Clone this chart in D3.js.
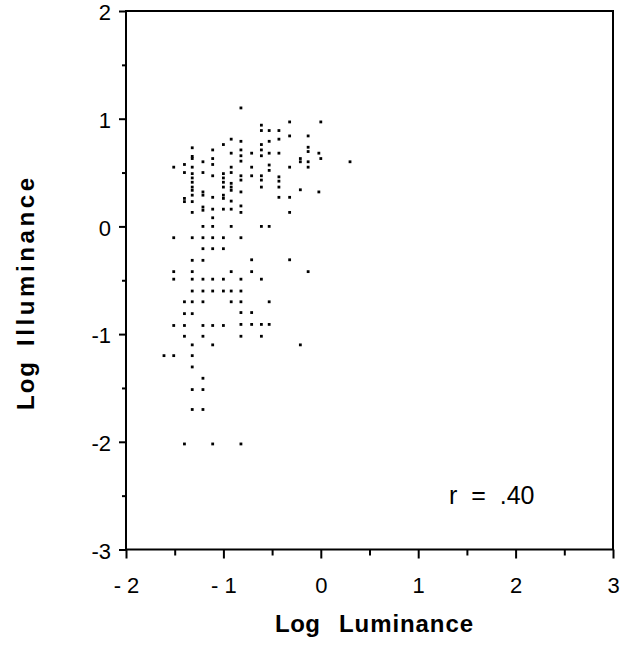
<!DOCTYPE html>
<html><head><meta charset="utf-8">
<script src="https://cdn.jsdelivr.net/npm/d3@7"></script>
<style>body{margin:0;background:#fff}
.tick text{font-family:'Liberation Sans', Arial, Helvetica, sans-serif !important;font-size:22px !important;fill:#000}</style>
</head><body>
<svg id="chart" width="636" height="645"></svg>
<script>
// Log luminance value of each column of points
const luminanceColumns = [-1.61, -1.51, -1.40, -1.32, -1.21, -1.11, -1.00, -0.92, -0.82, -0.71, -0.61, -0.53, -0.43, -0.32, -0.21, -0.13, -0.02, 0.00, 0.30];
// Log illuminance values for each column
const illuminanceByColumn = [
  [-1.20],
  [0.55, -0.105, -0.42, -0.49, -0.92, -1.20],
  [0.575, 0.50, 0.26, 0.23, -0.70, -0.81, -0.92, -1.02, -2.02],
  [0.73, 0.65, 0.63, 0.55, 0.49, 0.45, 0.41, 0.365, 0.335, 0.29, 0.23, 0.13, -0.105, -0.315, -0.42, -0.49, -0.60, -0.70, -0.81, -1.10, -1.20, -1.305, -1.515, -1.70],
  [0.60, 0.50, 0.32, 0.29, 0.18, 0.15, 0.0, -0.105, -0.207, -0.315, -0.49, -0.60, -0.70, -0.92, -1.02, -1.41, -1.515, -1.70],
  [0.71, 0.63, 0.575, 0.47, 0.27, 0.16, 0.08, 0.0, -0.105, -0.207, -0.49, -0.60, -0.92, -1.10, -2.02],
  [0.76, 0.49, 0.45, 0.41, 0.365, 0.29, 0.26, 0.16, -0.105, -0.207, -0.49, -0.60, -0.92],
  [0.81, 0.68, 0.55, 0.50, 0.40, 0.365, 0.335, 0.235, 0.16, 0.0, -0.42, -0.60, -0.70],
  [1.10, 0.79, 0.71, 0.656, 0.606, 0.47, 0.43, 0.32, 0.19, 0.13, -0.105, -0.49, -0.60, -0.70, -0.80, -0.91, -1.02, -2.02],
  [0.68, 0.55, 0.47, -0.31, -0.42, -0.80, -0.91],
  [0.94, 0.89, 0.76, 0.71, 0.656, 0.47, 0.43, 0.365, 0.0, -0.49, -0.91, -1.02],
  [0.89, 0.79, 0.68, 0.57, 0.52, 0.0, -0.70, -0.91],
  [0.89, 0.81, 0.68, 0.46, 0.42, 0.365, 0.27],
  [0.97, 0.84, 0.55, 0.27, 0.13, -0.31],
  [0.63, 0.60, 0.34, -1.10],
  [0.84, 0.735, 0.695, 0.60, 0.55, -0.42],
  [0.68, 0.32],
  [0.97, 0.63],
  [0.60]
];
const xMajorTicks = [-2, -1, 0, 1, 2, 3];
const xTickLabels = ["- 2", "- 1", "0", "1", "2", "3"];
const xMinorTicks = [-1.5, -0.5, 0.5, 1.5, 2.5];
const yMajorTicks = [2, 1, 0, -1, -2, -3];
const yTickLabels = ["2", "1", "0", "-1", "-2", "-3"];
const yMinorTicks = [1.5, 0.5, -0.5, -1.5, -2.5];
const xTitleWords = ["Log", "Luminance"];
const yTitleWords = ["Log", "Illuminance"];
const annotation = "r  =  .40";

const points = [];
luminanceColumns.forEach((lx, i) => illuminanceByColumn[i].forEach(ly => points.push({x: lx, y: ly})));

const svg = d3.select("#chart");
const font = "'Liberation Sans', Arial, Helvetica, sans-serif";
const x = d3.scaleLinear().domain([-2, 3]).range([126, 613]);
const y = d3.scaleLinear().domain([-3, 2]).range([549.5, 11]);

// frame
svg.append("rect")
  .attr("x", x(-2)).attr("y", y(2))
  .attr("width", x(3) - x(-2)).attr("height", y(-3) - y(2))
  .attr("fill", "none").attr("stroke", "#000").attr("stroke-width", 2);

function styleAxis(g) {
  g.attr("font-size", 22).attr("font-family", font);
  g.select(".domain").remove();
  g.selectAll(".tick line").attr("stroke", "#000").attr("stroke-width", 2);
  g.selectAll(".tick text").attr("fill", "#000");
}

// bottom axis
const gxMajor = svg.append("g").attr("transform", `translate(0,${y(-3)})`);
gxMajor.call(d3.axisBottom(x).tickValues(xMajorTicks).tickSize(9).tickPadding(19)
        .tickFormat((d, i) => xTickLabels[i]));
styleAxis(gxMajor);
const gxMinor = svg.append("g").attr("transform", `translate(0,${y(-3)})`);
gxMinor.call(d3.axisBottom(x).tickValues(xMinorTicks).tickSize(6).tickFormat(""));
styleAxis(gxMinor);

// left axis
const gyMajor = svg.append("g").attr("transform", `translate(${x(-2)},0)`);
gyMajor.call(d3.axisLeft(y).tickValues(yMajorTicks).tickSize(7).tickPadding(8)
        .tickFormat((d, i) => yTickLabels[i]));
styleAxis(gyMajor);
gyMajor.selectAll(".tick text").attr("dy", "0.4em");
const gyMinor = svg.append("g").attr("transform", `translate(${x(-2)},0)`);
gyMinor.call(d3.axisLeft(y).tickValues(yMinorTicks).tickSize(4).tickFormat(""));
styleAxis(gyMinor);

// points
const s = 2.8;
svg.append("g").selectAll("rect").data(points).join("rect")
  .attr("x", d => x(d.x) - s / 2).attr("y", d => y(d.y) - s / 2)
  .attr("width", s).attr("height", s).attr("fill", "#000");

// annotation
svg.append("text").attr("x", 449).attr("y", 504)
  .style("font-family", font).style("font-size", "25px")
  .style("white-space", "pre").text(annotation);

// x title
svg.append("text").attr("x", 275).attr("y", 632)
  .style("font-family", font).style("font-size", "24px").attr("font-weight", "bold")
  .attr("textLength", 45).attr("lengthAdjust", "spacing").text(xTitleWords[0]);
svg.append("text").attr("x", 339).attr("y", 632)
  .style("font-family", font).style("font-size", "24px").attr("font-weight", "bold")
  .attr("textLength", 134).attr("lengthAdjust", "spacing").text(xTitleWords[1]);

// y title
const yt = svg.append("g").attr("transform", "translate(34,0) rotate(-90)");
yt.append("text").attr("x", -410).attr("y", 0)
  .style("font-family", font).style("font-size", "24px").attr("font-weight", "bold")
  .attr("textLength", 48).attr("lengthAdjust", "spacing").text(yTitleWords[0]);
yt.append("text").attr("x", -346).attr("y", 0)
  .style("font-family", font).style("font-size", "24px").attr("font-weight", "bold")
  .attr("textLength", 168).attr("lengthAdjust", "spacing").text(yTitleWords[1]);
</script>
</body></html>
